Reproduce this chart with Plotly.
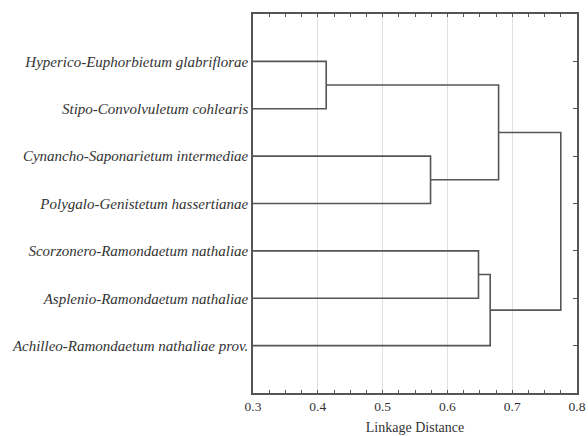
import plotly.graph_objects as go

leaves = [
    "Hyperico-Euphorbietum glabriflorae",
    "Stipo-Convolvuletum cohlearis",
    "Cynancho-Saponarietum intermediae",
    "Polygalo-Genistetum hassertianae",
    "Scorzonero-Ramondaetum nathaliae",
    "Asplenio-Ramondaetum nathaliae",
    "Achilleo-Ramondaetum nathaliae prov.",
]
# merges: (node a, node b, linkage distance); nodes 0-6 are leaves, 7+ are clusters
merge_a = [0, 2, 4, 7, 9, 10]
merge_b = [1, 3, 5, 8, 6, 11]
merge_h = [0.413, 0.574, 0.648, 0.679, 0.666, 0.775]
x_start = 0.3

pos = {i: (x_start, i + 1) for i in range(len(leaves))}
xs, ys = [], []
for k, (a, b, h) in enumerate(zip(merge_a, merge_b, merge_h)):
    xa, ya = pos[a]
    xb, yb = pos[b]
    xs += [xa, h, h, xb, None]
    ys += [ya, ya, yb, yb, None]
    pos[len(leaves) + k] = (h, (ya + yb) / 2)

fig = go.Figure()
fig.add_trace(go.Scatter(x=xs, y=ys, mode="lines",
                         line=dict(color="#555555", width=1.6),
                         hoverinfo="skip", showlegend=False))

fig.update_layout(
    width=588, height=436,
    margin=dict(l=253, r=11, t=14, b=43),
    paper_bgcolor="white", plot_bgcolor="white",
    font=dict(family="Liberation Serif", color="#333333"),
)
fig.update_xaxes(
    range=[0.3, 0.8], dtick=0.1, tickformat=".1f",
    showgrid=True, gridcolor="#e0e0e0", gridwidth=1,
    showline=True, linecolor="#555555", linewidth=1.5, mirror="allticks",
    ticks="inside", ticklen=3, tickcolor="#555555",
    minor=dict(dtick=0.025, ticks="inside", ticklen=3, tickcolor="#555555", showgrid=False),
    tickfont=dict(size=13.5, family="Liberation Serif", color="#333333"),
    title=dict(text="Linkage Distance", font=dict(size=14, family="Liberation Serif", color="#333333"), standoff=9),
    zeroline=False, automargin=False,
)
fig.update_yaxes(
    range=[8, 0], tickvals=list(range(1, len(leaves) + 1)),
    ticktext=[f"<i>{t}</i>" for t in leaves],
    showgrid=False, zeroline=False,
    showline=True, linecolor="#555555", linewidth=1.5, mirror="allticks",
    ticks="inside", ticklen=4, tickcolor="#555555",
    tickfont=dict(size=15, family="Liberation Serif", color="#333333"),
    automargin=False,
)
fig.write_html("out.html", config={"displayModeBar": False},
               post_script="document.body.style.margin='0';")
